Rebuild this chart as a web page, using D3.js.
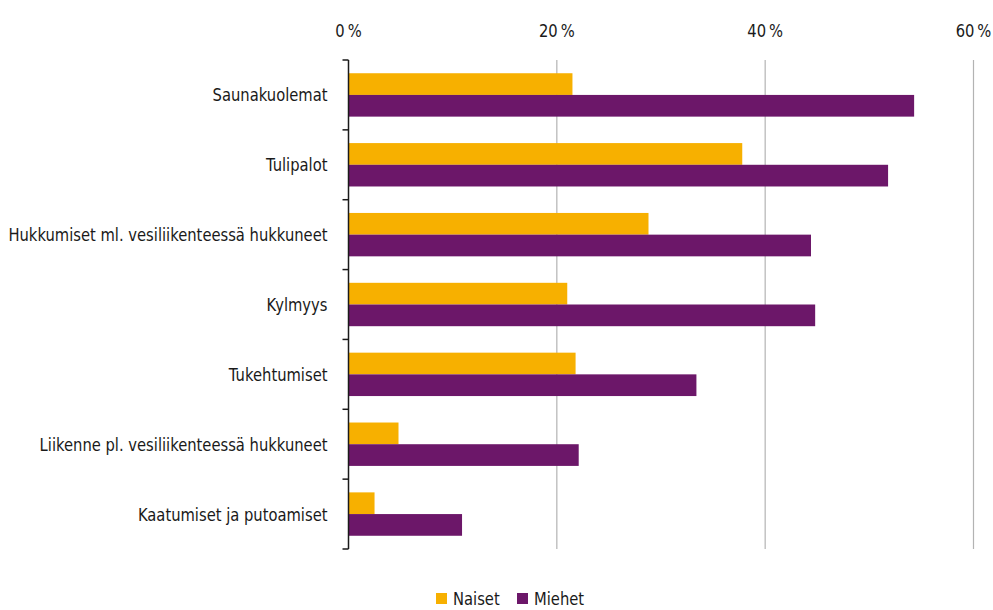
<!DOCTYPE html>
<html>
<head>
<meta charset="utf-8">
<script src="https://cdn.jsdelivr.net/npm/d3@7"></script>
<style>
  body { margin: 0; background: #fff; }
  text { font-family: "DejaVu Sans", sans-serif; fill: #1a1a1a; }
</style>
</head>
<body>
<div id="chart"></div>
<script>
//chart size and margins
const width = 993;
const height = 610;
const margin = { top: 60, right: 20, bottom: 61, left: 348.5 };
const innerwidth = width - margin.left - margin.right;
const innerheight = height - margin.top - margin.bottom;

//categories and series, values in percent
const categories = [
    "Saunakuolemat",
    "Tulipalot",
    "Hukkumiset ml. vesiliikenteessä hukkuneet",
    "Kylmyys",
    "Tukehtumiset",
    "Liikenne pl. vesiliikenteessä hukkuneet",
    "Kaatumiset ja putoamiset"
];
const seriesNames = ["Naiset", "Miehet"];
const naiset = [21.5, 37.8, 28.8, 21.0, 21.8, 4.8, 2.5];
const miehet = [54.3, 51.8, 44.4, 44.8, 33.4, 22.1, 10.9];
const xTicks = [0, 20, 40, 60];
const colors = ["#F7B000", "#6C1769"];

//no condensed font installed, so each label sits in a group squeezed sideways
const squeeze = 0.82;
const fontSize = "18px";

function label(parent, tx, ty, txt, anchor) {
    const g = parent.append("g")
        .attr("transform", "translate(" + tx + "," + ty + ") scale(" + squeeze + ",1)");
    g.append("text")
        .attr("x", 0)
        .attr("y", 0)
        .attr("text-anchor", anchor)
        .style("font-size", fontSize)
        .text(txt);
    return g;
}

const rows = [];
categories.forEach(function (c, i) {
    rows.push({ category: c, series: "Naiset", value: naiset[i] });
    rows.push({ category: c, series: "Miehet", value: miehet[i] });
});

const colorScale = d3.scaleOrdinal().domain(seriesNames).range(colors);

const x = d3.scaleLinear()
    .domain([0, 60])
    .range([0, 625]);

const y0 = d3.scaleBand()
    .domain(categories)
    .range([0, innerheight])
    .paddingInner(0)
    .paddingOuter(0);

//two bars per band, gap above and below
const y1 = d3.scaleBand()
    .domain(seriesNames)
    .range([0, y0.bandwidth()])
    .paddingInner(0)
    .paddingOuter(0.61);

const svg = d3.select("#chart")
    .append("svg")
    .attr("width", width)
    .attr("height", height)
    .append("g")
    .attr("transform", "translate(" + margin.left + "," + margin.top + ")");

//vertical gridlines
svg.selectAll(".grid")
    .data(xTicks.filter(function (d) { return d > 0; }))
    .enter()
    .append("line")
    .attr("x1", function (d) { return x(d); })
    .attr("x2", function (d) { return x(d); })
    .attr("y1", 0)
    .attr("y2", innerheight)
    .attr("stroke", "#b3b3b3")
    .attr("stroke-width", 1.2);

//top tick labels
xTicks.forEach(function (d) {
    label(svg, x(d), -23, d + "\u2009%", "middle");
});

//bars
svg.selectAll("rect.bar")
    .data(rows)
    .enter()
    .append("rect")
    .attr("class", "bar")
    .attr("x", 0)
    .attr("y", function (d) { return y0(d.category) + y1(d.series); })
    .attr("width", function (d) { return x(d.value); })
    .attr("height", y1.bandwidth())
    .attr("fill", function (d) { return colorScale(d.series); });

//y axis with boundary ticks
const yAxis = svg.append("g");
yAxis.append("line")
    .attr("x1", 0).attr("x2", 0)
    .attr("y1", 0).attr("y2", innerheight)
    .attr("stroke", "#1a1a1a")
    .attr("stroke-width", 1.5);

const bounds = categories.map(function (c) { return y0(c); }).concat([innerheight]);
yAxis.selectAll(".ytick")
    .data(bounds)
    .enter()
    .append("line")
    .attr("x1", -6).attr("x2", 0)
    .attr("y1", function (d) { return d; })
    .attr("y2", function (d) { return d; })
    .attr("stroke", "#1a1a1a")
    .attr("stroke-width", 1.5);

categories.forEach(function (c) {
    label(yAxis, -21, y0(c) + y0.bandwidth() / 2 + 6.5, c, "end");
});

//legend
const legend = d3.select("svg").append("g")
    .attr("transform", "translate(436,593)");

seriesNames.forEach(function (s, i) {
    const offset = i === 0 ? 0 : 81;
    legend.append("rect")
        .attr("x", offset)
        .attr("y", 0)
        .attr("width", 11)
        .attr("height", 11)
        .attr("fill", colorScale(s));
    label(legend, offset + 17, 12, s, "start");
});
</script>
</body>
</html>
